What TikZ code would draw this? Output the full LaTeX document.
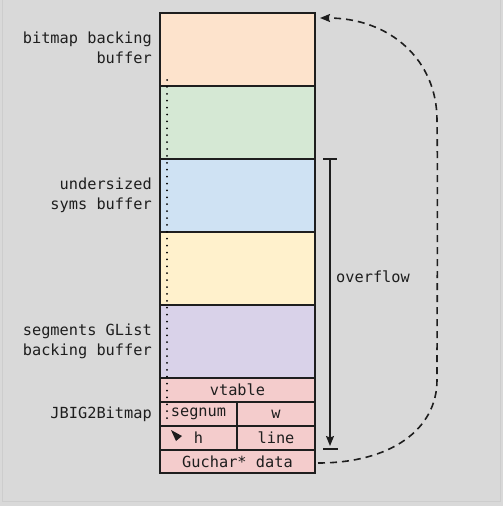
\documentclass[tikz,border=0pt]{standalone}
\usepackage{fontspec}
\setmonofont{DejaVu Sans Mono}
\usetikzlibrary{arrows.meta}
\definecolor{bg}{HTML}{D9D9D9}
\definecolor{frame}{HTML}{CDCDCD}
\definecolor{ink}{HTML}{1E1E1E}
\definecolor{corange}{HTML}{FDE3CC}
\definecolor{cgreen}{HTML}{D5E8D4}
\definecolor{cblue}{HTML}{CFE2F3}
\definecolor{cyellow}{HTML}{FFF1CC}
\definecolor{cpurple}{HTML}{D9D2E9}
\definecolor{cpink}{HTML}{F4CCCC}
\tikzset{
  cell/.style={draw=ink, line width=1.2pt, inner sep=0pt, outer sep=0pt, anchor=north west, text=ink, font=\ttfamily\fontsize{15.3}{20}\selectfont},
  lbl/.style={anchor=east, align=right, text=ink, inner sep=0pt, font=\ttfamily\fontsize{15.3}{20}\selectfont},
  tip/.style={-{Stealth[length=10pt,width=8pt,inset=1.5pt]}},
}
\begin{document}
\begin{tikzpicture}[x=1pt,y=-1pt]
\useasboundingbox (0,0) rectangle (503,506);
\fill[bg] (0,0) rectangle (503,506);
\draw[frame, line width=1pt] (2,-1) -- (2,501) -- (500,501) -- (500,-1);
% memory column
\node[cell, fill=corange, minimum width=155pt, minimum height=73pt] (b1) at (160,13) {};
\node[cell, fill=cgreen, minimum width=155pt, minimum height=73pt] (b2) at (160,86) {};
\node[cell, fill=cblue, minimum width=155pt, minimum height=73pt] (b3) at (160,159) {};
\node[cell, fill=cyellow, minimum width=155pt, minimum height=73pt] (b4) at (160,232) {};
\node[cell, fill=cpurple, minimum width=155pt, minimum height=73pt] (b5) at (160,305) {};
\node[cell, fill=cpink, minimum width=155pt, minimum height=24pt] (vt) at (160,378) {vtable};
\node[cell, fill=cpink, minimum width=77pt, minimum height=24pt] (sg) at (160,402) {segnum};
\node[cell, fill=cpink, minimum width=78pt, minimum height=24pt] (w) at (237,402) {w};
\node[cell, fill=cpink, minimum width=77pt, minimum height=24pt] (h) at (160,426) {h};
\node[cell, fill=cpink, minimum width=78pt, minimum height=24pt] (ln) at (237,426) {line};
\node[cell, fill=cpink, minimum width=155pt, minimum height=23pt] (gd) at (160,450) {Guchar* data};
% labels
\node[lbl] (l1) at (152,48) {bitmap backing\\buffer};
\node[lbl] (l2) at (152,195) {undersized\\syms buffer};
\node[lbl] (l3) at (152,341) {segments GList\\backing buffer};
\node[lbl] (l4) at (152,414) {JBIG2Bitmap};
% dotted pointer
\coordinate (d0) at (167,80);
\coordinate (d1) at (167,423);
\draw[black, line width=2pt, line cap=round, dash pattern=on 0pt off 6.9pt] (d0) -- (d1);
\fill[ink] (171,430) -- (182,436) -- (176,441) -- cycle;
% overflow
\coordinate (ot) at (330,159);
\coordinate (ob) at (330,446);
\draw[ink, line width=1.4pt] (323,159) -- (337,159);
\draw[ink, line width=1.4pt, tip] (ot) -- (ob);
\draw[ink, line width=1.4pt] (323,449) -- (338,449);
\node[text=ink, inner sep=0pt, font=\ttfamily\fontsize{15.3}{20}\selectfont] (of) at (373,277) {overflow};
% dashed loop
\coordinate (cs) at (318,463);
\coordinate (ce) at (320,18);
\draw[ink, line width=1.6pt, dash pattern=on 7pt off 5pt, tip]
  (cs) .. controls (390,463) and (437,430) .. (437,380)
  .. controls (437,300) and (438,200) .. (437,120)
  .. controls (437,60) and (390,18) .. (ce);
\end{tikzpicture}
\end{document}
